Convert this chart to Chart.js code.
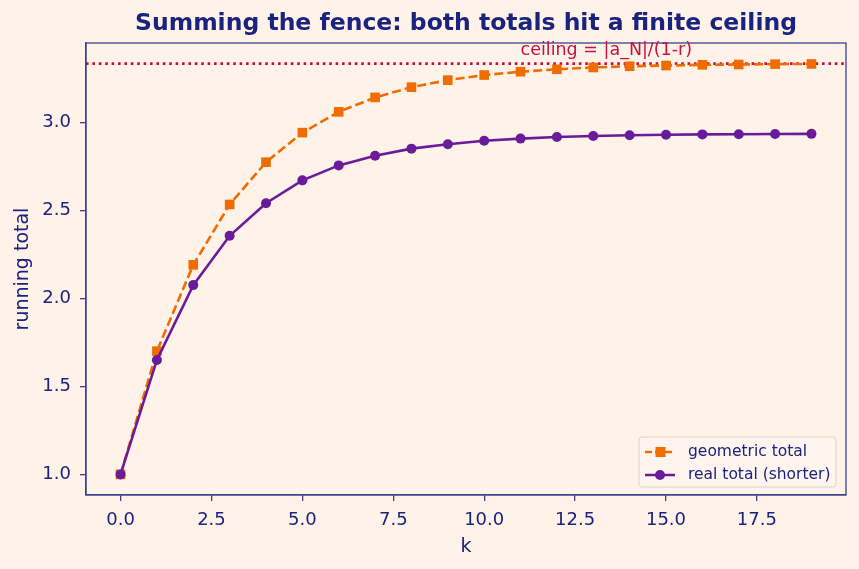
<!DOCTYPE html>
<html>
<head>
<meta charset="utf-8">
<script src="https://cdn.jsdelivr.net/npm/chart.js@4.4.1/dist/chart.umd.min.js"></script>
<style>
  html, body { margin: 0; padding: 0; background: #fff2e8; }
  #wrap { width: 859px; height: 569px; position: relative; }
</style>
</head>
<body>
<div id="wrap"><canvas id="myChart" width="859" height="569"></canvas></div>
<script>
// data
const ks = [0, 1, 2, 3, 4, 5, 6, 7, 8, 9, 10, 11, 12, 13, 14, 15, 16, 17, 18, 19];
const geometricTotal = [1.0, 1.7, 2.19, 2.533, 2.773, 2.941, 3.059, 3.141, 3.199, 3.239,
    3.268, 3.287, 3.301, 3.311, 3.318, 3.322, 3.326, 3.328, 3.330, 3.331];
const realTotal = [1.0, 1.65, 2.075, 2.355, 2.54, 2.67, 2.755, 2.81, 2.85, 2.875,
    2.895, 2.907, 2.916, 2.922, 2.926, 2.929, 2.931, 2.932, 2.933, 2.934];
const ceiling = 3.333;
const xTicks = [0, 2.5, 5, 7.5, 10, 12.5, 15, 17.5];
const yTicks = [1.0, 1.5, 2.0, 2.5, 3.0];
const xRange = [-0.95, 19.95];
const yRange = [0.883, 3.45];

const navy = "#1a237e";
const axisCol = "#3c4290";
const orange = "#ef6c00";
const purple = "#6a1b9a";
const crimson = "#c8103e";
const FONT = "'DejaVu Sans', sans-serif";

// frame, title, ceiling label and legend
const extras = {
    id: "extras",
    afterDraw(chart) {
        const ctx = chart.ctx;
        const a = chart.chartArea;
        const sx = chart.scales.x, sy = chart.scales.y;
        ctx.save();
        ctx.strokeStyle = axisCol;
        ctx.lineWidth = 1.3;
        ctx.strokeRect(a.left, a.top, a.right - a.left, a.bottom - a.top);

        ctx.fillStyle = navy;
        ctx.font = "bold 23.5px " + FONT;
        ctx.textAlign = "center";
        ctx.textBaseline = "middle";
        ctx.fillText("Summing the fence: both totals hit a finite ceiling", (a.left + a.right) / 2, 24);

        ctx.fillStyle = crimson;
        ctx.font = "17.5px " + FONT;
        ctx.textAlign = "left";
        ctx.textBaseline = "bottom";
        ctx.fillText("ceiling = |a_N|/(1-r)", sx.getPixelForValue(11), sy.getPixelForValue(ceiling) - 4);

        // legend box
        const lx = 639, ly = 437, lw = 197, lh = 50;
        ctx.fillStyle = "rgba(255,246,238,0.85)";
        ctx.strokeStyle = "#d8d2cc";
        ctx.lineWidth = 1;
        ctx.beginPath();
        ctx.roundRect(lx, ly, lw, lh, 3);
        ctx.fill();
        ctx.stroke();
        const items = [
            { label: "geometric total", color: orange, style: "rect", dash: [7, 3], y: 452 },
            { label: "real total (shorter)", color: purple, style: "circle", dash: [], y: 475 }
        ];
        items.forEach(it => {
            ctx.strokeStyle = it.color;
            ctx.lineWidth = 2.5;
            ctx.setLineDash(it.dash);
            ctx.beginPath();
            ctx.moveTo(645, it.y);
            ctx.lineTo(675, it.y);
            ctx.stroke();
            ctx.setLineDash([]);
            ctx.fillStyle = it.color;
            if (it.style === "rect") {
                ctx.fillRect(655.5, it.y - 5, 10, 10);
            } else {
                ctx.beginPath();
                ctx.arc(660, it.y, 5, 0, Math.PI * 2);
                ctx.fill();
            }
            ctx.fillStyle = navy;
            ctx.font = "15.5px " + FONT;
            ctx.textAlign = "left";
            ctx.textBaseline = "middle";
            ctx.fillText(it.label, 688, it.y);
        });
        ctx.restore();
    }
};

const config = {
    type: "line",
    data: {
        datasets: [
            {
                label: "ceiling",
                data: [{ x: xRange[0], y: ceiling }, { x: xRange[1], y: ceiling }],
                borderColor: crimson,
                borderWidth: 2.6,
                borderDash: [2.6, 3.8],
                pointRadius: 0,
                order: 3
            },
            {
                label: "geometric total",
                data: ks.map((k, i) => ({ x: k, y: geometricTotal[i] })),
                borderColor: orange,
                backgroundColor: orange,
                borderWidth: 2.6,
                borderDash: [9, 4],
                pointStyle: "rect",
                pointRadius: 6.8,
                pointBorderWidth: 0,
                order: 2
            },
            {
                label: "real total (shorter)",
                data: ks.map((k, i) => ({ x: k, y: realTotal[i] })),
                borderColor: purple,
                backgroundColor: purple,
                borderWidth: 2.6,
                pointStyle: "circle",
                pointRadius: 5,
                pointBorderWidth: 0,
                order: 1
            }
        ]
    },
    options: {
        responsive: false,
        animation: false,
        layout: { padding: { top: 43, right: 13, left: 0, bottom: 0 } },
        plugins: {
            legend: { display: false },
            title: { display: false },
            tooltip: { enabled: false }
        },
        scales: {
            x: {
                type: "linear",
                min: xRange[0],
                max: xRange[1],
                afterBuildTicks: axis => { axis.ticks = xTicks.map(v => ({ value: v })); },
                afterFit: axis => { axis.height = 74; },
                grid: { drawOnChartArea: false, drawTicks: true, tickLength: 6, color: axisCol, lineWidth: 1.3 },
                border: { display: true, color: axisCol, width: 1.3 },
                ticks: {
                    color: navy,
                    font: { family: FONT, size: 18 },
                    padding: 9,
                    maxRotation: 0,
                    callback: v => v.toFixed(1)
                },
                title: {
                    display: true,
                    text: "k",
                    color: navy,
                    font: { family: FONT, size: 19 },
                    padding: { top: 0, bottom: 11 }
                }
            },
            y: {
                type: "linear",
                min: yRange[0],
                max: yRange[1],
                afterBuildTicks: axis => { axis.ticks = yTicks.map(v => ({ value: v })); },
                afterFit: axis => { axis.width = 86; },
                grid: { drawOnChartArea: false, drawTicks: true, tickLength: 6, color: axisCol, lineWidth: 1.3 },
                border: { display: true, color: axisCol, width: 1.3 },
                ticks: {
                    color: navy,
                    font: { family: FONT, size: 18 },
                    padding: 9,
                    callback: v => v.toFixed(1)
                },
                title: {
                    display: true,
                    text: "running total",
                    color: navy,
                    font: { family: FONT, size: 19 },
                    padding: { top: 12, bottom: 0 }
                }
            }
        }
    },
    plugins: [extras]
};

const myChart = new Chart(document.getElementById("myChart"), config);
</script>
</body>
</html>
